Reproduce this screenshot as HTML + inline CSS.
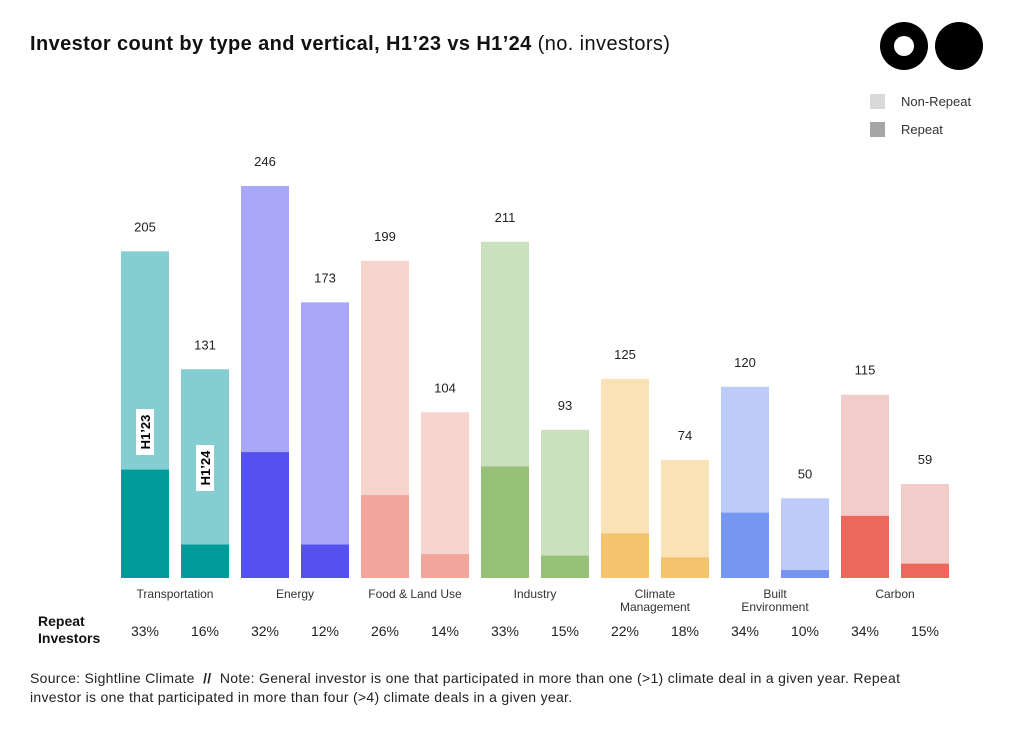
<!DOCTYPE html>
<html><head><meta charset="utf-8"><style>
body{margin:0;width:1013px;height:740px;background:#fff;font-family:"Liberation Sans",sans-serif;overflow:hidden;position:relative}
.t{position:absolute;color:#111}
</style></head><body>
<div class="t" style="left:30px;top:33px;font-size:20px;letter-spacing:0.4px"><b>Investor count by type and vertical, H1’23 vs H1’24</b> (no. investors)</div>
<svg style="position:absolute;left:880px;top:22px" width="104" height="48">
<circle cx="24" cy="24" r="24" fill="#000"/><circle cx="24" cy="24" r="10" fill="#fff"/><circle cx="79" cy="24" r="24" fill="#000"/></svg>
<div>
<div style="position:absolute;left:870px;top:94px;width:15px;height:15px;background:#d9d9d9"></div>
<div class="t" style="left:901px;top:94px;font-size:13px;color:#333">Non-Repeat</div>
<div style="position:absolute;left:870px;top:122px;width:15px;height:15px;background:#a6a6a6"></div>
<div class="t" style="left:901px;top:122px;font-size:13px;color:#333">Repeat</div>
</div>
<svg id="chart" style="position:absolute;left:0;top:0" width="1013" height="740"></svg>
<div class="t" style="left:38px;top:613px;font-size:14px;font-weight:bold;line-height:17px">Repeat<br>Investors</div>
<div class="t" style="left:30px;top:669px;font-size:14px;line-height:19px;width:905px;letter-spacing:0.3px;color:#222">Source: Sightline Climate &nbsp;<b>//</b>&nbsp; Note: General investor is one that participated in more than one (&gt;1) climate deal in a given year. Repeat investor is one that participated in more than four (&gt;4) climate deals in a given year.</div>
<script>
const categories=["Transportation","Energy","Food & Land Use","Industry","Climate\nManagement","Built\nEnvironment","Carbon"];
const totals23=[205,246,199,211,125,120,115];
const totals24=[131,173,104,93,74,50,59];
const repeat23=[68,79,52,70,28,41,39];
const repeat24=[21,21,15,14,13,5,9];
const pct23=["33%","32%","26%","33%","22%","34%","34%"];
const pct24=["16%","12%","14%","15%","18%","10%","15%"];
const darkC=["#009a9a","#5451ee","#f2a59a","#97c078","#f5c36e","#7696f1","#ec685c"];
const lightC=["#84cdd0","#a9a8f8","#f8d4ce","#cbe1bd","#f9e2b5","#bccbf8","#f2cbcb"];
const svg=document.getElementById('chart');const NS="http://www.w3.org/2000/svg";
const base=578,scale=392/246;
const y=v=>base-v*scale;
const xg=i=>121+i*120;
function mk(t,a){const e=document.createElementNS(NS,t);for(const k in a)e.setAttribute(k,a[k]);svg.appendChild(e);return e;}
function bar(x,tot,rep,i,yr){
 let r=mk('rect',{x:x,y:y(tot),width:48,height:tot*scale,fill:lightC[i]});
 
 
 let r2=mk('rect',{x:x,y:y(rep),width:48,height:rep*scale,fill:darkC[i]});
 
 
 let t=mk('text',{x:x+24,y:y(tot)-20,'text-anchor':'middle','font-size':13,fill:'#222'});t.textContent=tot;
 
 
}
categories.forEach((c,i)=>{
 bar(xg(i),totals23[i],repeat23[i],i,'h1-23');
 bar(xg(i)+60,totals24[i],repeat24[i],i,'h1-24');
 const lines=c.split("\n");
 lines.forEach((l,j)=>{let t=mk('text',{x:xg(i)+54,y:598+j*13,'text-anchor':'middle','font-size':12,fill:'#333'});t.textContent=l;
 
 });
 [[pct23[i],0],[pct24[i],60]].forEach(p=>{let t=mk('text',{x:xg(i)+24+p[1],y:636,'text-anchor':'middle','font-size':14,fill:'#222'});t.textContent=p[0];
 
 });
});
[["H1’23",145,432],["H1’24",205,468]].forEach(a=>{
 let g=mk('g',{transform:`translate(${a[1]},${a[2]}) rotate(-90)`});
 
 
 let r=document.createElementNS(NS,'rect');r.setAttribute('x',-23);r.setAttribute('y',-9);r.setAttribute('width',46);r.setAttribute('height',18);r.setAttribute('fill','#fff');g.appendChild(r);
 let t=document.createElementNS(NS,'text');t.setAttribute('x',0);t.setAttribute('y',5);t.setAttribute('text-anchor','middle');t.setAttribute('font-size',13);t.setAttribute('font-weight','bold');t.textContent=a[0];g.appendChild(t);
});
</script>
</body></html>
